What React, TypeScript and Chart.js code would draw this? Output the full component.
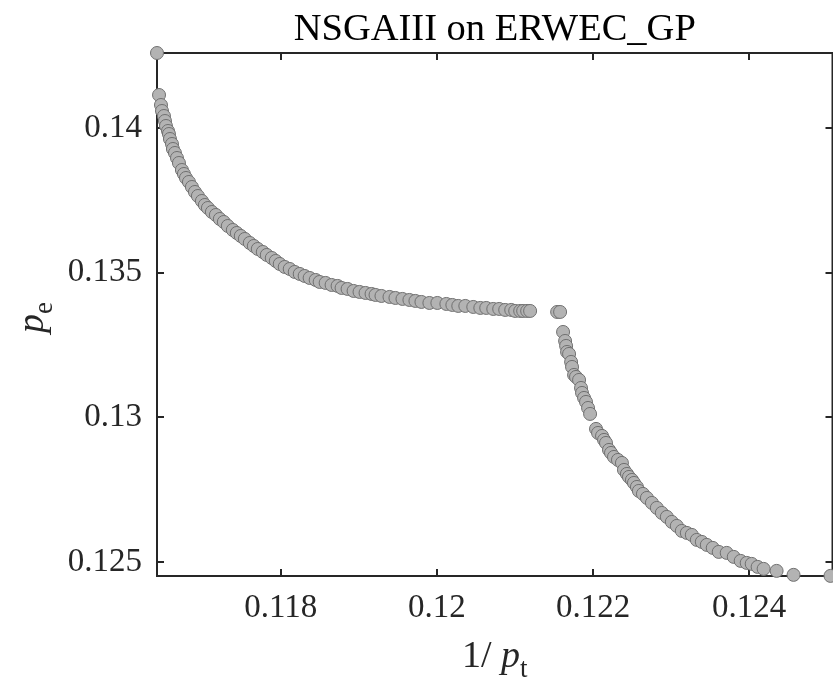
import React, { useEffect, useRef } from "react";
import { Chart, registerables } from "chart.js";

Chart.register(...registerables);

const titleText = "NSGAIII on ERWEC_GP";
const xLabelParts = ["1/ ", "p", "t"];
const yLabelParts = ["p", "e"];

const xLimits = [0.116415, 0.125067];
const yLimits = [0.124516, 0.142592];

const xTicks = [0.118, 0.12, 0.122, 0.124];
const xTickLabels = ["0.118", "0.12", "0.122", "0.124"];
const yTicks = [0.125, 0.13, 0.135, 0.14];
const yTickLabels = ["0.125", "0.13", "0.135", "0.14"];

// 1/p_t values (upper branch then lower branch)
const invPt = [
  0.116415, 0.116441, 0.116466, 0.116479, 0.116504, 0.116517, 0.11653, 0.116556, 0.116568, 0.116581,
  0.116607, 0.116619, 0.116645, 0.116671, 0.116696, 0.116734, 0.11676, 0.116786, 0.116824, 0.116862,
  0.116901, 0.116939, 0.11699, 0.117028, 0.117067, 0.117118, 0.117169, 0.11722, 0.117271, 0.117322,
  0.117386, 0.117437, 0.117488, 0.11754, 0.117603, 0.117655, 0.117706, 0.11777, 0.117821, 0.117885,
  0.117936, 0.117987, 0.118051, 0.118115, 0.118179, 0.118243, 0.118306, 0.11837, 0.118447, 0.118498,
  0.118575, 0.118651, 0.118728, 0.118779, 0.118856, 0.118933, 0.119009, 0.119086, 0.119163, 0.119214,
  0.11929, 0.119393, 0.119469, 0.119559, 0.119648, 0.119725, 0.119802, 0.119904, 0.120006, 0.120121,
  0.120198, 0.120274, 0.120364, 0.120466, 0.120556, 0.120632, 0.120722, 0.120798, 0.120875, 0.120952,
  0.121003, 0.121067, 0.121105, 0.121156, 0.121194, 0.12154, 0.121578,
  0.121616, 0.121642, 0.121655, 0.121667, 0.121693, 0.121719, 0.121731, 0.121757, 0.121782, 0.121821,
  0.121846, 0.121859, 0.121885, 0.12191, 0.121936, 0.121962, 0.122038, 0.122064, 0.122115, 0.122141,
  0.122166, 0.122204, 0.12223, 0.122268, 0.122319, 0.12237, 0.122396, 0.122434, 0.12246, 0.122498,
  0.122524, 0.122562, 0.122587, 0.122639, 0.12269, 0.122754, 0.122817, 0.122881, 0.122945, 0.123009,
  0.123073, 0.123137, 0.123201, 0.123265, 0.123329, 0.123393, 0.123457, 0.123533, 0.12361, 0.123712,
  0.123802, 0.123891, 0.123968, 0.124032, 0.124108, 0.124185, 0.124351, 0.124568, 0.125041,
];

// p_e values
const pe = [
  0.142592, 0.141141, 0.140795, 0.140588, 0.140415, 0.140242, 0.14007, 0.139897, 0.139793, 0.13962,
  0.139448, 0.139275, 0.139137, 0.138964, 0.138791, 0.138549, 0.138411, 0.138273, 0.138135, 0.137962,
  0.137789, 0.137651, 0.137478, 0.13734, 0.137236, 0.137098, 0.136994, 0.136856, 0.136752, 0.136614,
  0.136476, 0.136372, 0.136269, 0.136165, 0.136027, 0.135923, 0.135819, 0.135716, 0.135612, 0.135508,
  0.135405, 0.135301, 0.135197, 0.135128, 0.135025, 0.134956, 0.134886, 0.134817, 0.134748, 0.134679,
  0.134645, 0.134575, 0.134541, 0.134472, 0.134437, 0.134368, 0.134334, 0.134299, 0.134264, 0.13423,
  0.134195, 0.134161, 0.134126, 0.134092, 0.134057, 0.134023, 0.133988, 0.133953, 0.133953, 0.133919,
  0.133884, 0.13385, 0.13385, 0.133815, 0.133781, 0.133781, 0.133746, 0.133746, 0.133712, 0.133712,
  0.133677, 0.133677, 0.133677, 0.133677, 0.133677, 0.133642, 0.133642,
  0.132951, 0.13264, 0.132468, 0.13226, 0.132191, 0.131915, 0.131742, 0.131466, 0.131396, 0.131293,
  0.131016, 0.130844, 0.130671, 0.130533, 0.130325, 0.130118, 0.1296, 0.129461, 0.129358, 0.12922,
  0.129116, 0.128874, 0.12877, 0.128632, 0.128528, 0.128425, 0.128183, 0.128045, 0.127941, 0.127837,
  0.127734, 0.127595, 0.127457, 0.127354, 0.127215, 0.127043, 0.12687, 0.126697, 0.126559, 0.126386,
  0.126248, 0.126075, 0.126006, 0.125937, 0.125764, 0.125695, 0.125591, 0.125488, 0.125349, 0.125315,
  0.125177, 0.125038, 0.124969, 0.124935, 0.124831, 0.124762, 0.124693, 0.124555, 0.12452,
];

const SERIF = '"Liberation Serif", "Times New Roman", serif';
const AXIS_COLOR = "#262626";

function drawParts(ctx: CanvasRenderingContext2D, parts: { text: string; font: string; dy: number }[], x: number, y: number) {
  let cx = x;
  for (const p of parts) {
    ctx.font = p.font;
    ctx.fillText(p.text, cx, y + p.dy);
    cx += ctx.measureText(p.text).width;
  }
}

function partsWidth(ctx: CanvasRenderingContext2D, parts: { text: string; font: string; dy: number }[]) {
  let w = 0;
  for (const p of parts) {
    ctx.font = p.font;
    w += ctx.measureText(p.text).width;
  }
  return w;
}

const framePlugin = {
  id: "matlabFrame",
  beforeDatasetsDraw(chart: any) {
    const { ctx, chartArea: a, scales } = chart;
    ctx.save();
    ctx.strokeStyle = AXIS_COLOR;
    ctx.lineWidth = 2;
    ctx.strokeRect(a.left, a.top, a.right - a.left, a.bottom - a.top);
    const tl = 7;
    ctx.beginPath();
    for (const t of scales.x.ticks) {
      const px = Math.round(scales.x.getPixelForValue(t.value));
      ctx.moveTo(px, a.bottom);
      ctx.lineTo(px, a.bottom - tl);
      ctx.moveTo(px, a.top);
      ctx.lineTo(px, a.top + tl);
    }
    for (const t of scales.y.ticks) {
      const py = Math.round(scales.y.getPixelForValue(t.value));
      ctx.moveTo(a.left, py);
      ctx.lineTo(a.left + tl, py);
      ctx.moveTo(a.right, py);
      ctx.lineTo(a.right - tl, py);
    }
    ctx.stroke();
    ctx.restore();
  },
  afterDraw(chart: any) {
    const { ctx, chartArea: a } = chart;
    ctx.save();
    ctx.textBaseline = "alphabetic";
    ctx.textAlign = "left";
    const cx = (a.left + a.right) / 2;

    // title
    ctx.font = `38.5px ${SERIF}`;
    const tw = ctx.measureText(titleText).width;
    ctx.fillStyle = "#000";
    ctx.fillText(titleText, cx - tw / 2, 40);

    ctx.fillStyle = AXIS_COLOR;
    // x label
    const xp = [
      { text: xLabelParts[0], font: `38px ${SERIF}`, dy: 0 },
      { text: xLabelParts[1], font: `italic 38px ${SERIF}`, dy: 0 },
      { text: xLabelParts[2], font: `27px ${SERIF}`, dy: 10 },
    ];
    const xw = partsWidth(ctx, xp);
    drawParts(ctx, xp, cx - xw / 2, 667);

    // y label
    const yp = [
      { text: yLabelParts[0], font: `italic 38px ${SERIF}`, dy: 0 },
      { text: yLabelParts[1], font: `27px ${SERIF}`, dy: 9 },
    ];
    ctx.translate(43, 333);
    ctx.rotate(-Math.PI / 2);
    drawParts(ctx, yp, 0, 0);
    ctx.restore();
  },
};

export default function App() {
  const canvasRef = useRef<HTMLCanvasElement | null>(null);

  useEffect(() => {
    const canvas = canvasRef.current;
    if (!canvas) return;
    const points = invPt.map((x, i) => ({ x, y: pe[i] }));
    const chart = new Chart(canvas, {
      type: "scatter",
      data: {
        datasets: [
          {
            data: points,
            backgroundColor: "#b3b3b3",
            borderColor: "#707070",
            borderWidth: 1,
            pointRadius: 6.5,
            pointHoverRadius: 6.5,
            clip: false as any,
          },
        ],
      },
      plugins: [framePlugin],
      options: {
        animation: false,
        responsive: false,
        devicePixelRatio: 1,
        events: [],
        layout: { padding: { top: 53, right: 6, left: 0, bottom: 0 } },
        plugins: {
          legend: { display: false },
          title: { display: false },
          tooltip: { enabled: false },
        },
        scales: {
          x: {
            type: "linear",
            min: xLimits[0],
            max: xLimits[1],
            grid: { display: false, drawTicks: false },
            border: { display: false },
            afterBuildTicks: (scale: any) => {
              scale.ticks = xTicks.map((v) => ({ value: v }));
            },
            afterFit: (scale: any) => {
              scale.height = 110;
            },
            ticks: {
              autoSkip: false,
              maxRotation: 0,
              padding: 13,
              color: AXIS_COLOR,
              font: { family: SERIF, size: 33 },
              callback: (v: any) => {
                const i = xTicks.findIndex((t) => Math.abs(t - Number(v)) < 1e-9);
                return i >= 0 ? xTickLabels[i] : "";
              },
            },
          },
          y: {
            type: "linear",
            min: yLimits[0],
            max: yLimits[1],
            grid: { display: false, drawTicks: false },
            border: { display: false },
            afterBuildTicks: (scale: any) => {
              scale.ticks = yTicks.map((v) => ({ value: v }));
            },
            afterFit: (scale: any) => {
              scale.width = 157;
            },
            ticks: {
              autoSkip: false,
              padding: 15,
              color: AXIS_COLOR,
              font: { family: SERIF, size: 33 },
              callback: (v: any) => {
                const i = yTicks.findIndex((t) => Math.abs(t - Number(v)) < 1e-9);
                return i >= 0 ? yTickLabels[i] : "";
              },
            },
          },
        },
      },
    });
    return () => chart.destroy();
  }, []);

  return (
    <div style={{ position: "fixed", left: 0, top: 0, width: 833, height: 686, overflow: "hidden", background: "#fff" }}>
      <canvas ref={canvasRef} width={840} height={686} style={{ display: "block" }} />
    </div>
  );
}
